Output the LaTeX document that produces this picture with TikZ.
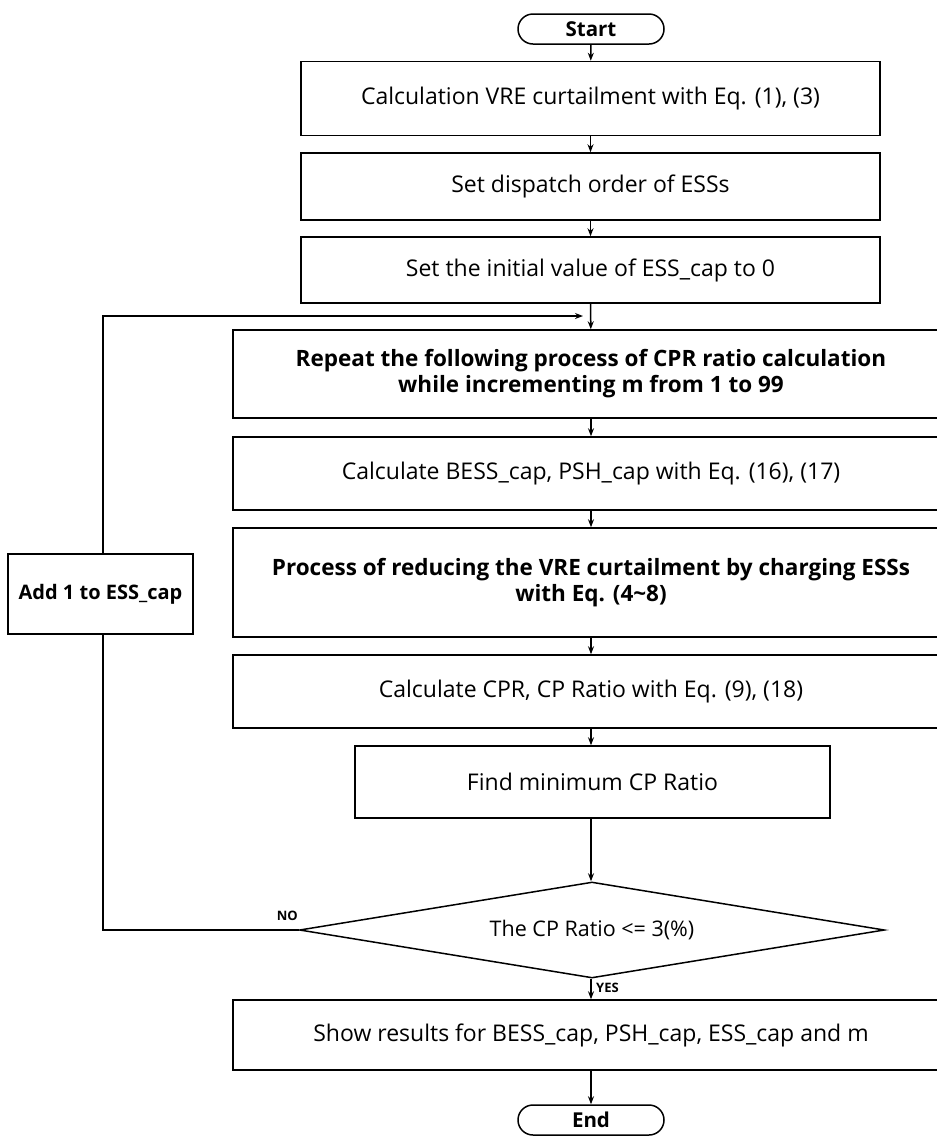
\documentclass[tikz,border=0pt]{standalone}
\usepackage{fontspec}
\setmainfont{Open Sans}
\usetikzlibrary{arrows.meta,shapes.geometric}
\begin{document}
\begin{tikzpicture}[x=1pt,y=-1pt,
  every node/.style={font=\fontsize{23}{26}\selectfont},
  box/.style={draw,line width=1.5pt,inner sep=0pt,align=center},
  term/.style={draw,line width=1.5pt,rounded corners=15pt,minimum width=146pt,minimum height=30pt,inner sep=0pt,font=\fontsize{20.5}{25}\selectfont\bfseries},
  arr/.style={line width=1.5pt,-{Stealth[length=8pt,width=6pt]}},
  loopline/.style={line width=1.9pt},
  bold/.style={font=\fontsize{22.5}{26}\selectfont\bfseries},
  lbl/.style={font=\fontsize{13}{14}\selectfont\bfseries,inner sep=0pt}
]
\useasboundingbox (0,0) rectangle (937,1136);
\clip (0,0) rectangle (937,1136);

\node[term] (start) at (591,29) {Start};
\node[box,minimum width=579pt,minimum height=74pt] (b1) at (590.5,98.5) {Calculation VRE curtailment with Eq. (1), (3)};
\node[box,minimum width=579pt,minimum height=67pt] (b2) at (590.5,186.5) {Set dispatch order of ESSs};
\node[box,minimum width=579pt,minimum height=66pt] (b3) at (590.5,270) {Set the initial value of ESS\_cap to 0};
\node[box,bold,minimum width=716pt,minimum height=88pt] (b4) at (591,374) {Repeat the following process of CPR ratio calculation\\while incrementing m from 1 to 99};
\node[box,minimum width=716pt,minimum height=73pt] (b5) at (591,473.5) {Calculate BESS\_cap, PSH\_cap with Eq. (16), (17)};
\node[box,bold,minimum width=716pt,minimum height=109pt] (b6) at (591,582.5) {Process of reducing the VRE curtailment by charging ESSs\\with Eq. (4\textasciitilde 8)};
\node[box,minimum width=716pt,minimum height=73pt] (b7) at (591,691.5) {Calculate CPR, CP Ratio with Eq. (9), (18)};
\node[box,minimum width=475pt,minimum height=72pt] (b8) at (592.5,782) {Find minimum CP Ratio};
\node[diamond,draw,line width=1.5pt,minimum width=585pt,minimum height=96pt,inner sep=0pt,aspect=6,font=\fontsize{21.5}{26}\selectfont] (d) at (592,930) {The CP Ratio <= 3(\%)};
\node[box,minimum width=716pt,minimum height=70pt] (b9) at (591,1035) {Show results for BESS\_cap, PSH\_cap, ESS\_cap and m};
\node[term] (end) at (591,1120) {End};
\node[box,font=\fontsize{20}{25}\selectfont\bfseries,minimum width=185pt,minimum height=80pt] (add) at (100.5,594) {Add 1 to ESS\_cap};

\coordinate (lb) at (103,930);
\coordinate (lt) at (103,316);
\coordinate (join) at (583,316);

\draw[arr] (start) -- (b1);
\draw[arr] (b1) -- (b2);
\draw[arr] (b2) -- (b3);
\draw[arr] (b3) -- (b4);
\draw[arr] (b4) -- (b5);
\draw[arr] (b5) -- (b6);
\draw[arr] (b6) -- (b7);
\draw[arr] (b7) -- (b8.north -| b7.south);
\draw[arr] (b8.south -| b7.south) -- (d.north -| b7.south);
\draw[arr] (d.south -| b7.south) -- (b9);
\draw[arr] (b9) -- (end);

\draw[loopline] (d.west) -- (lb) -- (add.south -| lb);
\draw[loopline,-{Stealth[length=8pt,width=6pt]}] (add.north -| lb) -- (lt) -- (join);

\node[lbl,anchor=south east] (no) at (298,921) {NO};
\node[lbl,anchor=north west] (yes) at (596,983) {YES};
\end{tikzpicture}
\end{document}
